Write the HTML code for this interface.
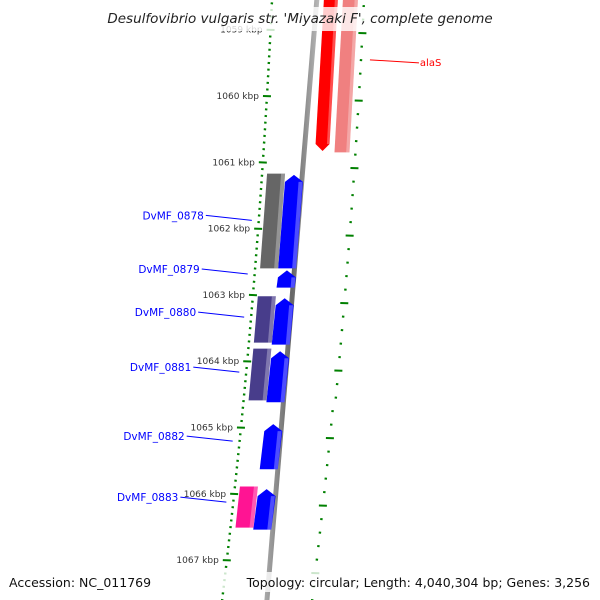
<!DOCTYPE html>
<html><head><meta charset="utf-8"><style>
html,body{margin:0;padding:0;background:#fff;}
svg{display:block;font-family:"DejaVu Sans","Liberation Sans",sans-serif;}
</style></head><body>
<svg id="chart" width="600" height="600" viewBox="0 0 600 600" xmlns="http://www.w3.org/2000/svg">
<defs>
<linearGradient id="bb" x1="0" x2="1"><stop offset="0" stop-color="#aaa"/><stop offset="0.5" stop-color="#666"/><stop offset="1" stop-color="#bbb"/></linearGradient>
</defs>
<g id="layer"></g>
</svg>
<script>
// data
const majorKbp = [1059,1060,1061,1062,1063,1064,1065,1066,1067];
const genes = [
  {name:"alaS", start:1058.4, end:1060.83, strand:-1, track:"outer1", color:"#ff0000"},
  {name:"alaS-cds", start:1058.4, end:1060.85, strand:0, track:"outer2", color:"#f08080"},
  {name:"DvMF_0878", start:1061.19, end:1062.60, strand:1, track:"inner1", color:"#0000ff"},
  {name:"DvMF_0878-cds", start:1061.17, end:1062.60, strand:0, track:"inner2", color:"#666666"},
  {name:"DvMF_0879", start:1062.63, end:1062.89, strand:1, track:"inner1", color:"#0000ff"},
  {name:"DvMF_0880", start:1063.05, end:1063.75, strand:1, track:"inner1", color:"#0000ff"},
  {name:"DvMF_0880-cds", start:1063.02, end:1063.72, strand:0, track:"inner2", color:"#483d8b"},
  {name:"DvMF_0881", start:1063.85, end:1064.62, strand:1, track:"inner1", color:"#0000ff"},
  {name:"DvMF_0881-cds", start:1063.81, end:1064.59, strand:0, track:"inner2", color:"#483d8b"},
  {name:"DvMF_0882", start:1064.95, end:1065.63, strand:1, track:"inner1", color:"#0000ff"},
  {name:"DvMF_0883", start:1065.93, end:1066.54, strand:1, track:"inner1", color:"#0000ff"},
  {name:"DvMF_0883-cds", start:1065.89, end:1066.51, strand:0, track:"inner2", color:"#ff1493"}
];
const labels = [
  {text:"DvMF_0878", kbp:1061.80, side:-1, color:"#0000ff"},
  {text:"DvMF_0879", kbp:1062.61, side:-1, color:"#0000ff"},
  {text:"DvMF_0880", kbp:1063.26, side:-1, color:"#0000ff"},
  {text:"DvMF_0881", kbp:1064.09, side:-1, color:"#0000ff"},
  {text:"DvMF_0882", kbp:1065.13, side:-1, color:"#0000ff"},
  {text:"DvMF_0883", kbp:1066.05, side:-1, color:"#0000ff"},
  {text:"alaS", kbp:1059.47, side:1, color:"#ff0000"}
];

const NS="http://www.w3.org/2000/svg";
const g=document.getElementById('layer');
function yOf(k){return 96+(k-1060)*66.3;}
function leftX(y){return 272-0.0467*y-0.0000607*y*y;}
function bbX(y){return leftX(y)+45;}
const trackOff={outer1:[7,21],outer2:[26,41],inner1:[-22,-4],inner2:[-40,-22]};
function el(tag,attrs,parent){const e=document.createElementNS(NS,tag);for(const k in attrs)e.setAttribute(k,attrs[k]);(parent||g).appendChild(e);return e;}

// left tick axis (minor dots every 0.1 kbp)
for(let i=0;i<=95;i++){
  const k=1058.6+i*0.1; const y=yOf(k); if(y<-5||y>605)continue;
  const isMajor=Math.abs(k-Math.round(k))<0.01;
  const x=leftX(y);
  const t=el('line',{x1:x-(isMajor?4:1.2),y1:y,x2:x+(isMajor?4:1.2),y2:y+0.3,stroke:'#008000','stroke-width':2});
  
  
}
majorKbp.forEach(k=>{
  const y=yOf(k); const x=leftX(y);
  const t=el('text',{x:x-8,y:y+3,'text-anchor':'end','font-size':9,fill:'#333'});
  t.textContent=k+' kbp';
  
  
});
// right tick axis
for(let i=0;i<=50;i++){
  const y=33+i*13.5-67.5; if(y<-5||y>605)continue;
  const isMajor=i%5===0;
  const x=leftX(y)+92-(y>400?2:0);
  const t=el('line',{x1:x-(isMajor?4:1.2),y1:y,x2:x+(isMajor?4:1.2),y2:y+0.3,stroke:'#008000','stroke-width':2});
  
  
}
// backbone
const bbEl=el('polygon',{points:`${bbX(-5)-2.5},-5 ${bbX(-5)+2.5},-5 ${bbX(605)+2.5},605 ${bbX(605)-2.5},605`,fill:'url(#bb)'});



// genes
genes.forEach(d=>{
  const y1=yOf(d.start), y2=yOf(d.end); const [o1,o2]=trackOff[d.track];
  const a1=bbX(y1)+o1,b1=bbX(y1)+o2,a2=bbX(y2)+o1,b2=bbX(y2)+o2;
  let pts; const h=7;
  if(d.strand===1){const m=(a1+b1)/2;pts=`${m},${y1} ${b1},${y1+h} ${b2},${y2} ${a2},${y2} ${a1},${y1+h}`;}
  else if(d.strand===-1){const m=(a2+b2)/2;pts=`${a1},${y1} ${b1},${y1} ${b2},${y2-h} ${m},${y2} ${a2},${y2-h}`;}
  else pts=`${a1},${y1} ${b1},${y1} ${b2},${y2} ${a2},${y2}`;
  const p=el('polygon',{points:pts,fill:d.color});
  
  
  const w=(o2-o1)*0.22;
  const hy1=d.strand===1?y1+h:y1, hy2=d.strand===-1?y2-h:y2;
  const hl=el('polygon',{points:`${bbX(hy1)+o2-w},${hy1} ${bbX(hy1)+o2},${hy1} ${bbX(hy2)+o2},${hy2} ${bbX(hy2)+o2-w},${hy2}`,fill:'#fff',opacity:0.3});
  
  
});

// labels
labels.forEach(d=>{
  const y=yOf(d.kbp);
  if(d.side<0){
    const gx=bbX(y+4)-52; const tx=gx-47;
    const ln=el('line',{x1:tx+1,y1:y,x2:gx,y2:y+5,stroke:d.color,'stroke-width':1});
    
    
    const t=el('text',{x:tx-1,y:y+4,'text-anchor':'end','font-size':10.5,fill:d.color});
    t.textContent=d.text;
    
    
  } else {
    const gx=bbX(y)+56;
    const ln=el('line',{x1:gx,y1:y-1,x2:gx+49,y2:y+2,stroke:d.color,'stroke-width':1});
    
    
    const t=el('text',{x:gx+50,y:y+5,'font-size':10,fill:d.color});
    t.textContent=d.text;
    
    
  }
});

// title & footer
const titleBg=el('rect',{x:0,y:7,width:600,height:24,fill:'#fff',opacity:0.8});


const titleText=el('text',{x:300,y:23,'text-anchor':'middle','font-size':13.5,'font-style':'italic',fill:'#222'});
titleText.textContent="Desulfovibrio vulgaris str. 'Miyazaki F', complete genome";


const footBg=el('rect',{x:0,y:572,width:600,height:20,fill:'#fff',opacity:0.8});


const accText=el('text',{x:9,y:587,'font-size':12.5,fill:'#111'});
accText.textContent="Accession: NC_011769";


const topoText=el('text',{x:590,y:587,'text-anchor':'end','font-size':12.5,fill:'#111'});
topoText.textContent="Topology: circular; Length: 4,040,304 bp; Genes: 3,256";


</script>
</body></html>
